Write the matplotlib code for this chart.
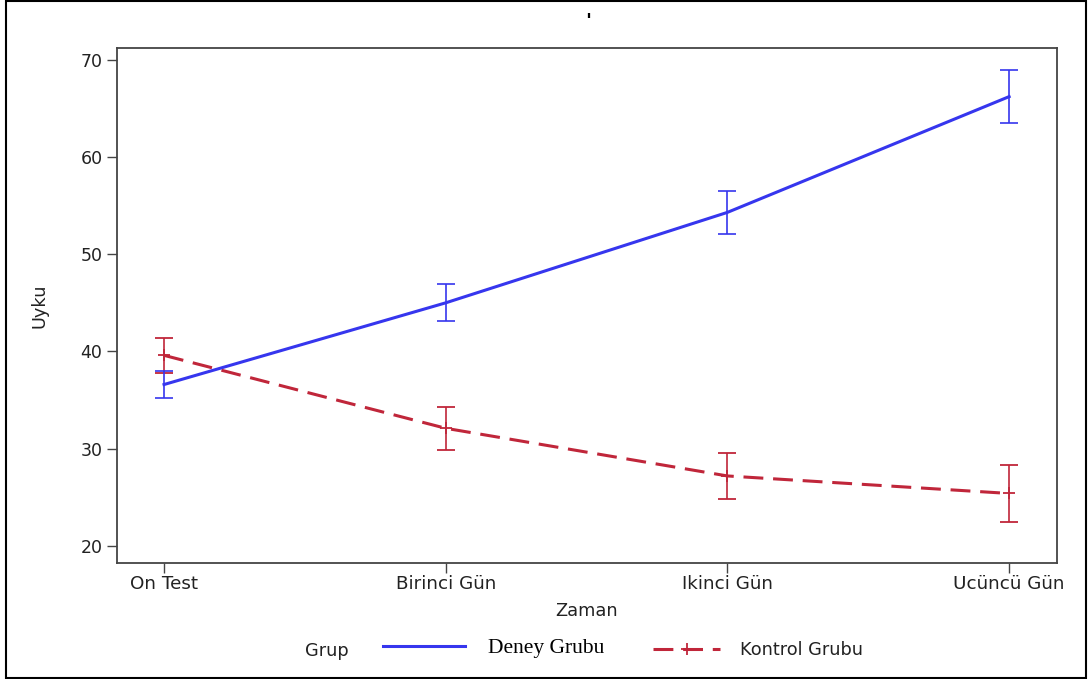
import matplotlib
matplotlib.use("Agg")
import matplotlib.pyplot as plt
from matplotlib.patches import Rectangle

# data
zaman = ["On Test", "Birinci Gün", "Ikinci Gün", "Ucüncü Gün"]
deney_mean = [36.6, 45.0, 54.3, 66.2]
deney_err = [1.4, 1.9, 2.2, 2.7]
kontrol_mean = [39.6, 32.1, 27.2, 25.4]
kontrol_err = [1.8, 2.2, 2.4, 2.9]
yticks = [20, 30, 40, 50, 60, 70]

BLUE = "#3636EE"
RED = "#C0263A"
TXT = "#222222"

plt.rcParams["font.family"] = ["DejaVu Sans"]

fig = plt.figure(figsize=(10.89, 6.79), dpi=100)
ax = fig.add_axes([117/1089, 1-563/679, (1057-117)/1089, (563-48)/679])
x = list(range(len(zaman)))

deney = ax.errorbar(x, deney_mean, yerr=deney_err, color=BLUE, lw=2.2, elinewidth=1.2,
                    capsize=6.5, capthick=1.2, zorder=3)
kontrol = ax.errorbar(x, kontrol_mean, yerr=kontrol_err, color=RED, lw=2.2, elinewidth=1.2,
                      capsize=6.5, capthick=1.2, dashes=(6.5, 3.2), marker="+", ms=8,
                      mew=1.3, zorder=2)

ax.set_xlim(-0.167, 3.17)
ax.set_ylim(18.25, 71.2)
ax.set_xticks(x)
ax.set_xticklabels(zaman, fontsize=13.2, color=TXT)
ax.set_yticks(yticks)
ax.tick_params(axis="y", labelsize=12.5, labelcolor=TXT, length=7, width=1, color="#444444")
ax.tick_params(axis="x", length=7, width=1, color="#444444", pad=1.5)
for s in ax.spines.values():
    s.set_color("#444444"); s.set_linewidth(1.3)
ax.set_xlabel("Zaman", fontsize=12.8, color=TXT, va="center")
ax.xaxis.set_label_coords(0.5, (563-611)/515)
ax.set_ylabel("Uyku", fontsize=12.8, color=TXT, va="center")
ax.yaxis.set_label_coords((40-117)/940, 0.5)

# bottom legend: "Grup" header, then one entry per group
fig.text(327/1089, 1-651/679, "Grup", fontsize=12.8, color=TXT, ha="center", va="center")
px1 = 15.5 * 100 / 72
leg1 = fig.legend([deney.lines[0]], ["Deney Grubu"], loc="center left", frameon=False,
                  bbox_to_anchor=(383/1089, 1-648/679), borderpad=0, borderaxespad=0,
                  handlelength=82/px1, handletextpad=23/px1,
                  prop={"family": "Liberation Serif", "size": 15.5})
leg1.get_texts()[0].set_color("black")
px2 = 12.8 * 100 / 72
leg2 = fig.legend([kontrol.lines[0]], ["Kontrol Grubu"], loc="center left", frameon=False,
                  bbox_to_anchor=(653/1089, 1-650/679), borderpad=0, borderaxespad=0,
                  handlelength=67/px2, handletextpad=20/px2, fontsize=12.8)
leg2.get_texts()[0].set_color(TXT)

# stray title mark
fig.text(588/1089, 1-21/679, "'", fontsize=14, fontweight="bold", ha="center", va="center")

fig.patches.append(Rectangle((6/1089, 1/679), 1080/1089, 677/679, transform=fig.transFigure,
                             fill=False, edgecolor="black", lw=1.5))

fig.savefig("out.png", dpi=100)
